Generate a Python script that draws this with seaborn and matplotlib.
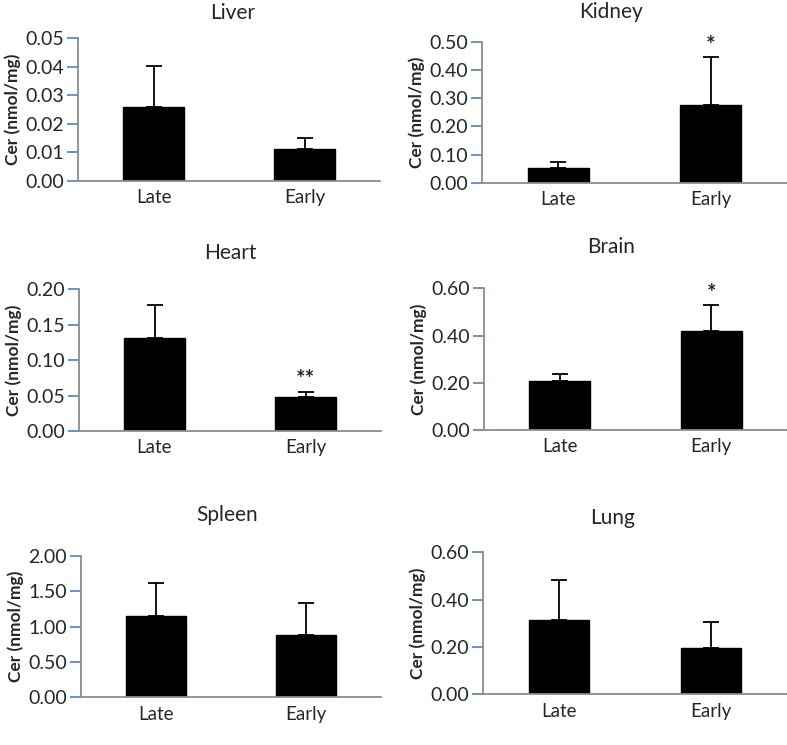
import matplotlib
matplotlib.use("Agg")
import matplotlib.pyplot as plt
import seaborn as sns

sns.set_style("white")
plt.rcParams['font.family'] = ['Lato', 'DejaVu Sans']

groups = ["Late", "Early"]

organs = ["Liver", "Kidney", "Heart", "Brain", "Spleen", "Lung"]
means = {
    "Liver": [0.0258, 0.0113],
    "Kidney": [0.051, 0.2755],
    "Heart": [0.1317, 0.0475],
    "Brain": [0.209, 0.4205],
    "Spleen": [1.153, 0.875],
    "Lung": [0.314, 0.194],
}
errors = {
    "Liver": [0.0145, 0.0038],
    "Kidney": [0.0235, 0.169],
    "Heart": [0.0463, 0.0075],
    "Brain": [0.027, 0.1085],
    "Spleen": [0.46, 0.461],
    "Lung": [0.169, 0.113],
}
yticks = {
    "Liver": [0.00, 0.01, 0.02, 0.03, 0.04, 0.05],
    "Kidney": [0.00, 0.10, 0.20, 0.30, 0.40, 0.50],
    "Heart": [0.00, 0.05, 0.10, 0.15, 0.20],
    "Brain": [0.00, 0.20, 0.40, 0.60],
    "Spleen": [0.00, 0.50, 1.00, 1.50, 2.00],
    "Lung": [0.00, 0.20, 0.40, 0.60],
}
stars = {"Kidney": "*", "Heart": "**", "Brain": "*"}

# axes boxes in pixels: left, right, top, bottom ; title position x, y
W, H = 787, 745
boxes = {
    "Liver": (78, 380, 38.3, 180.7, 233, 13),
    "Kidney": (482, 787, 41.7, 182.7, 611, 12),
    "Heart": (79, 381, 289.3, 431, 230, 253),
    "Brain": (484, 787, 288.3, 430, 611, 247),
    "Spleen": (81, 381, 555.7, 697.3, 227, 515),
    "Lung": (483, 787, 552.3, 694.3, 613, 518),
}

fig = plt.figure(figsize=(W / 100, H / 100), dpi=100)

for organ in organs:
    l, r, t, b, tx, ty = boxes[organ]
    ax = fig.add_axes([l / W, 1 - b / H, (r - l) / W, (b - t) / H])
    sns.barplot(x=groups, y=means[organ], color="black", saturation=1,
                width=0.4, edgecolor="black", ax=ax)
    ax.errorbar([0, 1], means[organ], yerr=[[0, 0], errors[organ]],
                fmt="none", ecolor="black", elinewidth=1.3, capsize=6,
                capthick=1.3)
    if organ in stars:
        top = means[organ][1] + errors[organ][1]
        ax.text(1, top + yticks[organ][-1] * 0.085, stars[organ],
                ha="center", va="center", fontsize=16, fontweight="bold")
    ax.set_xlim(-0.5, 1.5)
    ax.set_ylim(0, yticks[organ][-1])
    ax.set_yticks(yticks[organ])
    ax.set_yticklabels([f"{v:.2f}" for v in yticks[organ]])
    ax.set_ylabel("Cer (nmol/mg)", fontsize=12.5, fontweight="bold", labelpad=3)
    sns.despine(ax=ax)
    for side in ["left", "bottom"]:
        ax.spines[side].set_color("#8c8c8c")
        ax.spines[side].set_linewidth(1.3)
    ax.tick_params(axis="y", length=8, width=1.2, color="#4f81bd",
                   labelsize=14, pad=2, left=True, direction="out")
    ax.tick_params(axis="x", length=0, labelsize=13.5, pad=6)
    fig.text(tx / W, 1 - ty / H, organ, ha="center", va="center", fontsize=15)

fig.savefig("out.png", dpi=100)
